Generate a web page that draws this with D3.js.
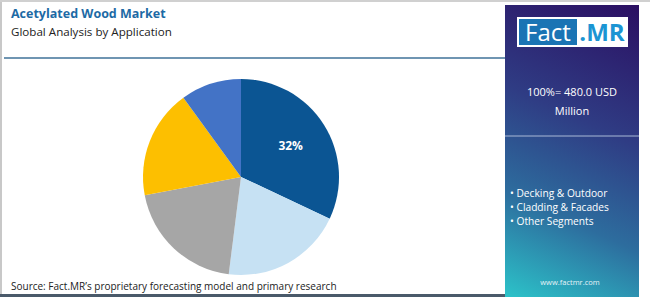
<!DOCTYPE html>
<html lang="en">
<head>
<meta charset="UTF-8">
<title>Acetylated Wood Market</title>
<script src="https://d3js.org/d3.v7.min.js"></script>
<style>
  body { margin: 0; background: #fff; }
  svg { display: block; font-family: "Open Sans", "DejaVu Sans", sans-serif; }
</style>
</head>
<body>
<script>
  // data
  var segments = ["Decking & Outdoor", "Cladding & Facades", "Other Segments", "Segment 4", "Segment 5"];
  var shares = [32, 20, 20, 18, 10];
  var colors = ["#0b5593", "#c6e1f3", "#a6a6a6", "#fdbf00", "#4373c6"];
  var legendItems = ["Decking & Outdoor", "Cladding & Facades", "Other Segments"];
  var totalLabel = ["100%= 480.0 USD", "Million"];

  var width = 650, height = 297;

  var svg = d3.select("body").append("svg")
    .attr("width", width)
    .attr("height", height);

  // frame
  svg.append("rect").attr("x", 0).attr("y", 0).attr("width", width).attr("height", height).attr("fill", "#fff");
  svg.append("rect").attr("x", 0).attr("y", 0).attr("width", 2).attr("height", height).attr("fill", "#c8c8c8");
  svg.append("rect").attr("x", 0).attr("y", 0).attr("width", width).attr("height", 2).attr("fill", "#d0d0d0");

  // title
  svg.append("text").attr("x", 11).attr("y", 18)
    .style("font-size", "12.5px").style("font-weight", "bold").attr("fill", "#1d6aa5")
    .text("Acetylated Wood Market");
  svg.append("text").attr("x", 11).attr("y", 36)
    .style("font-size", "11.6px").attr("fill", "#222")
    .text("Global Analysis by Application");

  svg.append("line").attr("x1", 4).attr("x2", 505).attr("y1", 58).attr("y2", 58)
    .attr("stroke", "#3f7299").attr("stroke-width", 1.5);

  // pie
  var cx = 241, cy = 177, r = 98;
  var pie = d3.pie().sort(null).value(d => d);
  var arc = d3.arc().innerRadius(0).outerRadius(r);
  var g = svg.append("g").attr("transform", `translate(${cx},${cy})`);
  var arcs = pie(shares);
  g.selectAll("path").data(arcs).enter().append("path")
    .attr("d", arc)
    .attr("fill", (d, i) => colors[i]);

  var labelArc = d3.arc().innerRadius(r * 0.6).outerRadius(r * 0.6);
  g.append("text")
    .attr("transform", `translate(${labelArc.centroid(arcs[0])})`)
    .attr("text-anchor", "middle").attr("dy", "0.35em")
    .style("font-size", "12px").style("font-weight", "bold").attr("fill", "#fff")
    .text(shares[0] + "%");

  // source
  svg.append("text").attr("x", 11).attr("y", 290)
    .style("font-size", "10px").attr("fill", "#222")
    .text("Source: Fact.MR\u2019s proprietary forecasting model and primary research");
  svg.append("rect").attr("x", 0).attr("y", 294).attr("width", 506).attr("height", 3).attr("fill", "#4a5a6a");

  // side panel
  var px = 505, pw = 134;
  var defs = svg.append("defs");
  var grad = defs.append("linearGradient").attr("id", "panelGrad")
    .attr("gradientUnits", "userSpaceOnUse")
    .attr("x1", px + pw).attr("y1", 5).attr("x2", px).attr("y2", 297);
  grad.append("stop").attr("offset", "0").attr("stop-color", "#2b0f62");
  grad.append("stop").attr("offset", "0.4").attr("stop-color", "#2f3c84");
  grad.append("stop").attr("offset", "0.7").attr("stop-color", "#2d6d9e");
  grad.append("stop").attr("offset", "1").attr("stop-color", "#2cc3c9");

  svg.append("rect").attr("x", px).attr("y", 5).attr("width", pw).attr("height", 292)
    .attr("fill", "url(#panelGrad)");

  // logo
  svg.append("rect").attr("x", 517).attr("y", 17).attr("width", 111).attr("height", 30).attr("fill", "#fff");
  svg.append("rect").attr("x", 519).attr("y", 19).attr("width", 58).attr("height", 26).attr("fill", "#1a74b4");
  svg.append("text").attr("x", 548).attr("y", 41).attr("text-anchor", "middle")
    .style("font-size", "24px").attr("fill", "#fff").text("Fact");
  svg.append("text").attr("x", 602).attr("y", 41).attr("text-anchor", "middle")
    .style("font-size", "24px").style("font-weight", "bold").attr("fill", "#1b95d3").text(".MR");

  svg.selectAll(".total").data(totalLabel).enter().append("text")
    .attr("class", "total")
    .attr("x", px + pw / 2).attr("y", (d, i) => 96 + i * 19)
    .attr("text-anchor", "middle")
    .style("font-size", "11px").attr("fill", "#fff")
    .text(d => d);

  svg.append("line").attr("x1", px).attr("x2", px + pw).attr("y1", 136).attr("y2", 136)
    .attr("stroke", "#a9b9d6").attr("stroke-width", 1);

  svg.selectAll(".legend").data(legendItems).enter().append("text")
    .attr("class", "legend")
    .attr("x", 510).attr("y", (d, i) => 197 + i * 14)
    .style("font-size", "10.2px").attr("fill", "#fff")
    .text(d => "\u2022 " + d);

  svg.append("text").attr("x", 570).attr("y", 285).attr("text-anchor", "middle")
    .style("font-size", "7.5px").attr("fill", "#e6f4f8")
    .text("www.factmr.com");
</script>
</body>
</html>
